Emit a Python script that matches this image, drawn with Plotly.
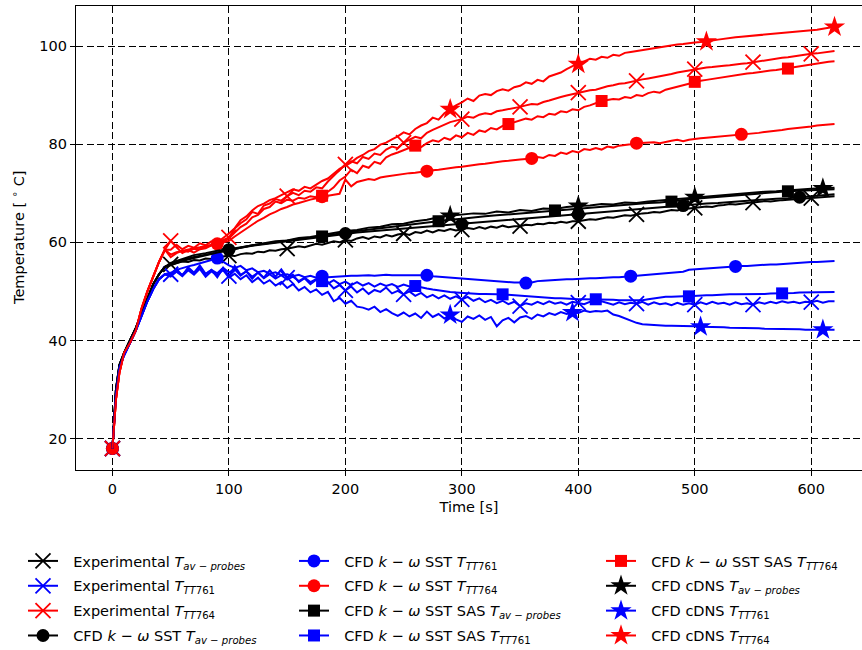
import plotly.graph_objects as go

# ---------------------------------------------------------------------------
# Time axes [s]
# start-up phase sampled irregularly, then a regular clock
T_START = [0, 3, 6, 10, 15, 20, 25, 30, 35, 40, 45]
TIME_FINE = T_START + list(range(50, 621, 5))     # 5 s clock
TIME_COARSE = T_START + list(range(50, 621, 10))  # 10 s clock

# shared start-up transient (0-45 s)
RISE_AV = [18, 30, 35, 37.5, 40, 42.5, 45.5, 48.5, 51.5, 53.5, 55]
RISE_761 = [18, 29, 34.5, 37, 39.5, 42, 45, 48, 50.5, 52.5, 53.5]
RISE_764 = [18, 28, 33.5, 37.5, 39.5, 42, 46.5, 50, 53, 56, 58.5]

# ---------------------------------------------------------------------------
# Experimental temperatures [degC] on TIME_FINE
EXP_AV = RISE_AV + [
    55.5, 55.8, 56.1, 56.0, 56.4, 56.3, 56.7, 56.6, 56.9, 57.1,
    57.3, 57.2, 57.6, 57.8, 57.7, 58.1, 58.0, 58.4, 58.3, 58.6,
    58.7, 58.9, 59.2, 59.0, 59.4, 59.7, 59.5, 59.9, 60.2, 60.0,
    60.5, 60.3, 60.8, 61.1, 60.7, 61.2, 61.0, 61.5, 61.2, 61.6,
    61.8, 61.5, 62.1, 61.9, 62.4, 62.0, 62.5, 62.3, 62.7, 62.4,
    62.6, 62.9, 62.7, 63.1, 62.8, 63.2, 63.0, 63.4, 63.1, 63.3,
    63.3, 63.6, 63.5, 63.8, 63.7, 64.0, 63.9, 64.2, 64.0, 64.3,
    64.3, 64.5, 64.7, 64.6, 64.9, 65.1, 65.0, 65.3, 65.5, 65.4,
    65.7, 65.9, 66.0, 66.2, 66.1, 66.4, 66.6, 66.5, 66.8, 66.9,
    67.0, 67.2, 67.3, 67.2, 67.5, 67.6, 67.8, 67.7, 67.9, 68.0,
    68.1, 68.2, 68.4, 68.3, 68.5, 68.6, 68.7, 68.8, 68.9, 68.9,
    69.0, 69.1, 69.2, 69.3, 69.4]

EXP_761 = RISE_761 + [
    53.5, 54.6, 53.2, 54.9, 53.8, 55.3, 53.6, 54.4, 52.9, 54.8,
    53.1, 55.2, 53.4, 54.1, 52.6, 53.9, 52.8, 54.3, 53.0, 54.5,
    52.8, 53.4, 51.9, 52.7, 51.5, 52.4, 51.2, 51.9, 50.6, 51.3,
    50.2, 51.0, 49.8, 50.6, 49.5, 50.3, 49.9, 50.8, 49.6, 50.1,
    49.4, 50.0, 49.1, 49.7, 48.8, 49.3, 48.6, 49.2, 48.5, 49.0,
    48.4, 48.9, 48.1, 48.6, 47.8, 48.3, 47.6, 48.1, 47.4, 47.9,
    47.0, 47.6, 47.3, 47.9, 47.4, 48.0, 47.5, 47.8, 47.3, 47.9,
    47.7, 47.4, 47.9, 47.5, 48.0, 47.6, 47.3, 47.8, 47.4, 47.7,
    47.5, 47.9, 47.3, 47.8, 47.4, 47.6, 47.2, 47.7, 47.3, 47.6,
    47.3, 47.8, 47.4, 47.9, 47.5, 47.7, 47.3, 47.8, 47.4, 47.6,
    47.3, 47.8, 47.5, 47.9, 47.6, 48.0, 47.7, 47.9, 47.6, 47.9,
    47.8, 48.1, 47.7, 48.0, 48.0]

EXP_764 = RISE_764 + [
    60.3, 59.0, 57.8, 58.4, 57.9, 58.6, 58.8, 59.4, 59.9, 60.5,
    61.0, 62.8, 63.9, 64.7, 66.2, 65.8, 67.5, 67.9, 68.8, 68.5,
    69.4, 70.1, 69.6, 70.5, 70.3, 71.2, 71.0, 72.4, 73.5, 74.6,
    75.9, 76.5, 76.1, 77.4, 77.0, 78.1, 77.8, 78.9, 79.5, 79.2,
    80.3, 80.9, 81.5, 81.2, 82.3, 82.9, 83.4, 83.9, 84.5, 84.8,
    85.1, 85.6, 85.4, 86.0, 86.3, 86.1, 86.7, 86.9, 87.1, 87.4,
    87.6, 87.9, 88.2, 88.1, 88.6, 88.9, 89.3, 89.6, 89.9, 90.2,
    90.5, 90.7, 91.0, 91.1, 91.5, 91.8, 92.0, 92.3, 92.4, 92.7,
    92.9, 93.2, 93.4, 93.6, 93.8, 94.1, 94.3, 94.6, 94.8, 95.0,
    95.3, 95.4, 95.6, 95.7, 95.9, 96.0, 96.1, 96.3, 96.4, 96.5,
    96.7, 96.9, 97.0, 97.2, 97.4, 97.6, 97.7, 97.9, 98.1, 98.2,
    98.4, 98.5, 98.7, 98.9, 99.0]

# ---------------------------------------------------------------------------
# CFD k-omega SST
SST_AV = RISE_AV + [  # on TIME_COARSE
    55.5, 56.4, 57.0, 57.5, 58.0, 58.5, 58.9, 59.3, 59.6, 59.9,
    60.2, 60.5, 60.8, 61.1, 61.5, 61.8, 62.0, 62.2, 62.4, 62.6,
    62.8, 62.9, 63.1, 63.3, 63.5, 63.7, 63.9, 64.1, 64.3, 64.5,
    64.7, 64.9, 65.1, 65.3, 65.5, 65.7, 65.9, 66.1, 66.3, 66.5,
    66.7, 66.9, 67.1, 67.3, 67.5, 67.7, 67.9, 68.0, 68.2, 68.4,
    68.5, 68.7, 68.9, 69.0, 69.2, 69.3, 69.6, 69.8]

SST_761 = RISE_761 + [  # on TIME_FINE
    53.8, 54.4, 54.8, 55.1, 55.4, 55.7, 56.0, 56.4, 56.8, 56.0,
    55.3, 54.8, 55.2, 54.3, 54.7, 53.9, 54.2, 53.6, 53.9, 53.3,
    53.5, 53.1, 53.4, 52.9, 53.2, 52.8, 53.1, 52.9, 53.0, 53.1,
    53.1, 53.2, 53.2, 53.3, 53.3, 53.2, 53.3, 53.4, 53.3, 53.3,
    53.3, 53.3, 53.3, 53.3, 53.3, 53.1, 53.0, 52.9, 52.8, 52.7,
    52.7, 52.6, 52.5, 52.4, 52.3, 52.2, 52.1, 52.0, 51.9, 51.8,
    51.8, 51.7, 51.8, 52.1, 52.2, 52.3, 52.4, 52.4, 52.5, 52.5,
    52.6, 52.6, 52.7, 52.7, 52.8, 52.8, 52.9, 52.9, 53.0, 53.1,
    53.2, 53.3, 53.5, 53.6, 53.7, 53.8, 53.8, 53.9, 54.0, 54.4,
    54.5, 54.5, 54.6, 54.7, 54.8, 54.9, 55.0, 55.1, 55.2, 55.2,
    55.3, 55.4, 55.4, 55.5, 55.5, 55.6, 55.7, 55.8, 55.8, 55.9,
    56.0, 56.0, 56.1, 56.1, 56.2]

SST_764 = RISE_764 + [  # on TIME_FINE
    57.5, 58.0, 58.3, 58.6, 58.8, 59.0, 59.2, 59.4, 59.7, 60.0,
    60.3, 61.2, 62.0, 62.9, 63.6, 64.4, 65.0, 65.7, 66.2, 66.8,
    67.2, 67.7, 68.0, 68.4, 68.7, 69.0, 69.3, 69.5, 69.7, 69.9,
    72.8, 71.4, 72.3, 72.6, 72.9, 72.7, 73.2, 73.4, 73.6, 73.8,
    73.9, 74.1, 74.2, 74.4, 74.5, 74.7, 74.8, 75.0, 75.1, 75.3,
    75.4, 75.6, 75.7, 75.9, 76.0, 76.2, 76.3, 76.5, 76.6, 76.8,
    76.9, 77.0, 77.1, 77.4, 77.2, 77.8, 77.6, 78.3, 78.0, 78.6,
    78.3, 79.0, 78.8, 79.2, 78.9, 79.5, 79.3, 79.7, 79.8, 80.0,
    80.2, 80.3, 80.3, 80.4, 80.2, 80.5, 80.7, 80.9, 80.6, 80.9,
    81.1, 81.2, 81.3, 81.4, 81.5, 81.6, 81.7, 81.8, 82.0, 82.1,
    82.2, 82.3, 82.5, 82.6, 82.8, 82.9, 83.1, 83.2, 83.4, 83.5,
    83.6, 83.8, 83.9, 84.0, 84.1]

# ---------------------------------------------------------------------------
# CFD k-omega SST SAS
SAS_AV = RISE_AV + [  # on TIME_COARSE
    55.3, 56.2, 56.8, 57.4, 57.9, 58.4, 58.9, 59.4, 59.7, 60.0,
    60.3, 60.6, 60.9, 61.2, 61.6, 62.0, 62.3, 62.6, 62.9, 63.2,
    63.5, 63.8, 64.1, 64.3, 64.6, 64.8, 65.1, 65.3, 65.5, 65.7,
    65.9, 66.1, 66.3, 66.5, 66.7, 66.9, 67.0, 67.2, 67.4, 67.6,
    67.8, 68.0, 68.1, 68.3, 68.6, 68.9, 69.1, 69.3, 69.5, 69.7,
    69.9, 70.0, 70.2, 70.4, 70.5, 70.6, 70.7, 70.8]

SAS_761 = RISE_761 + [  # on TIME_FINE
    53.0, 54.1, 53.4, 54.6, 53.8, 54.9, 53.5, 54.4, 53.7, 54.8,
    53.9, 54.5, 53.2, 54.1, 53.0, 53.8, 52.7, 53.5, 52.6, 53.3,
    52.4, 53.0, 52.1, 52.8, 51.9, 52.5, 52.1, 51.6, 52.3, 51.5,
    52.0, 51.3, 51.9, 51.2, 51.7, 51.0, 51.6, 51.1, 51.5, 50.9,
    51.4, 51.0, 51.1, 50.8, 50.6, 50.4, 50.2, 50.1, 49.9, 49.8,
    49.7, 49.6, 49.6, 49.5, 49.5, 49.4, 49.4, 49.4, 49.3, 49.2,
    49.1, 49.0, 48.9, 48.8, 48.7, 48.7, 48.6, 48.6, 48.5, 48.5,
    48.4, 48.4, 48.4, 48.4, 48.3, 48.3, 48.3, 48.2, 48.2, 48.2,
    48.2, 48.2, 48.4, 48.6, 48.8, 48.9, 48.9, 49.0, 49.0, 49.0,
    49.1, 49.1, 49.2, 49.2, 49.3, 49.3, 49.4, 49.4, 49.4, 49.5,
    49.5, 49.5, 49.5, 49.6, 49.6, 49.6, 49.7, 49.7, 49.8, 49.8,
    49.8, 49.8, 49.9, 49.9, 49.9]

SAS_764 = RISE_764 + [  # on TIME_FINE
    57.0, 57.8, 58.3, 58.1, 58.7, 58.6, 59.1, 59.4, 59.6, 60.1,
    60.8, 62.0, 63.1, 63.8, 65.1, 65.6, 66.8, 67.2, 68.3, 68.0,
    68.7, 68.5, 69.1, 68.9, 69.4, 69.2, 69.5, 70.3, 71.2, 72.6,
    73.4, 74.8, 74.1, 75.6, 75.2, 76.4, 76.0, 77.3, 77.9, 78.3,
    78.8, 79.3, 79.7, 79.4, 80.2, 80.8, 80.5, 81.3, 80.9, 81.8,
    81.4, 82.3, 81.9, 82.8, 82.5, 83.3, 83.0, 83.7, 84.1, 84.4,
    84.9, 85.2, 85.0, 85.7, 85.5, 86.2, 86.0, 86.7, 86.5, 87.1,
    86.9, 87.6, 87.9, 88.3, 88.8, 89.0, 89.2, 89.1, 89.6, 89.4,
    90.0, 89.8, 90.4, 90.7, 90.5, 91.1, 91.4, 91.7, 92.0, 92.4,
    92.7, 92.9, 93.1, 93.3, 93.5, 93.7, 93.9, 94.1, 94.2, 94.4,
    94.5, 94.7, 94.8, 95.0, 95.1, 95.3, 95.4, 95.6, 95.8, 96.0,
    96.2, 96.4, 96.6, 96.8, 96.9]

# ---------------------------------------------------------------------------
# CFD cDNS
CDNS_AV = RISE_AV + [  # on TIME_COARSE
    55.8, 56.6, 57.4, 57.8, 58.3, 58.6, 59.0, 59.5, 59.8, 60.2,
    60.4, 60.9, 61.1, 61.5, 61.9, 62.3, 62.5, 63.0, 63.2, 63.7,
    63.8, 64.3, 64.6, 65.1, 65.4, 65.6, 65.9, 65.8, 66.3, 66.1,
    66.6, 66.4, 66.9, 66.8, 67.2, 67.4, 67.5, 67.8, 67.7, 68.1,
    68.0, 68.3, 68.5, 68.7, 69.0, 69.2, 69.4, 69.6, 69.8, 70.0,
    70.1, 70.3, 70.4, 70.6, 70.7, 70.9, 71.0, 71.1]

CDNS_761 = RISE_761 + [  # on TIME_FINE
    53.2, 54.0, 53.1, 54.3, 53.4, 54.6, 53.0, 54.1, 53.3, 54.4,
    52.8, 53.6, 52.5, 53.3, 51.9, 52.8, 51.6, 52.3, 51.2, 51.9,
    50.7, 51.5, 50.2, 50.9, 49.8, 50.4, 49.3, 49.9, 48.0, 48.7,
    47.5, 48.1, 46.9, 46.7, 46.3, 46.9, 45.8, 46.4, 45.6, 45.0,
    45.7, 44.9, 45.5, 44.6, 45.9, 44.8, 45.4, 44.5, 45.2, 44.3,
    43.8, 44.9, 44.4, 45.1, 44.2, 44.8, 42.9, 44.1, 44.6, 43.7,
    44.7, 45.0, 44.4, 45.3, 44.9, 45.6, 45.2, 45.8, 45.4, 45.7,
    45.6, 46.1, 45.8, 46.0, 45.9, 46.1, 45.3, 45.0, 44.5, 44.0,
    43.6, 43.3, 43.2, 43.1, 43.1, 43.0, 43.0, 43.0, 42.9, 42.9,
    42.9, 42.8, 42.8, 42.8, 42.7, 42.7, 42.6, 42.6, 42.5, 42.5,
    42.5, 42.5, 42.4, 42.4, 42.4, 42.3, 42.3, 42.3, 42.3, 42.2,
    42.2, 42.2, 42.2, 42.2, 42.2]

CDNS_764 = RISE_764 + [  # on TIME_FINE
    58.5, 59.5, 58.6, 59.3, 58.9, 59.8, 59.4, 60.2, 60.0, 60.9,
    61.8, 62.9, 64.5, 65.3, 66.5, 67.4, 67.9, 68.6, 69.0, 69.6,
    70.2, 70.8, 70.5, 71.3, 71.0, 71.8, 72.5, 73.0, 74.1, 75.0,
    75.6, 76.3, 77.2, 77.8, 78.6, 79.0, 79.9, 80.3, 81.0, 81.6,
    82.4, 82.0, 83.1, 83.8, 84.3, 85.4, 85.0, 86.3, 87.1, 87.9,
    88.5, 89.3, 88.8, 89.9, 90.2, 90.0, 90.8, 91.2, 90.9, 91.6,
    91.9, 92.6, 92.3, 93.1, 92.8, 93.8, 94.2, 94.6, 95.3, 95.9,
    96.3, 96.8, 97.4, 97.2, 97.8, 97.6, 98.2, 98.0, 98.6, 98.8,
    99.0, 99.2, 99.4, 99.6, 99.8, 99.9, 100.1, 100.3, 100.4, 100.6,
    100.7, 100.8, 100.9, 101.1, 101.3, 101.5, 101.6, 101.8, 101.9, 102.0,
    102.2, 102.3, 102.4, 102.5, 102.6, 102.7, 102.8, 102.9, 103.0, 103.1,
    103.1, 103.3, 103.5, 103.7, 103.9]

# marker times [s] (a marker is placed on the series at these samples)
MARK_EXP = [0, 50, 100, 150, 200, 250, 300, 350, 400, 450, 500, 550, 600]
MARK_SST_AV = [0, 100, 200, 300, 400, 490, 590]
MARK_SST_761 = [0, 90, 180, 270, 355, 445, 535]
MARK_SST_764 = [0, 90, 180, 270, 360, 450, 540]
MARK_SAS_AV = [180, 280, 380, 480, 580]
MARK_SAS_761 = [180, 260, 335, 415, 495, 575]
MARK_SAS_764 = [180, 260, 340, 420, 500, 580]
MARK_CDNS_AV = [290, 400, 500, 610]
MARK_CDNS_761 = [290, 395, 505, 610]
MARK_CDNS_764 = [290, 400, 510, 620]

X_TICKS = [0, 100, 200, 300, 400, 500, 600]
Y_TICKS = [20, 40, 60, 80, 100]

# ---------------------------------------------------------------------------
FONT = "DejaVu Sans"
BLACK, BLUE, RED = "#000000", "#0000ff", "#ff0000"

GAP = "\u2002\u2009"  # space between legend symbol and its label
AV = "<i>T</i><sub><i>av \u2212 probes</i></sub>"
P761 = "<i>T</i><sub><i>TT</i>761</sub>"
P764 = "<i>T</i><sub><i>TT</i>764</sub>"
KW = "<i>k</i> \u2212 <i>\u03c9</i> SST"

# (name, time, values, marker times, colour, symbol, size, legend)
SERIES = [
    ("Experimental " + AV, TIME_FINE, EXP_AV, MARK_EXP, BLACK, "x-thin", 15, "legend"),
    ("Experimental " + P761, TIME_FINE, EXP_761, MARK_EXP, BLUE, "x-thin", 15, "legend"),
    ("Experimental " + P764, TIME_FINE, EXP_764, MARK_EXP, RED, "x-thin", 15, "legend"),
    ("CFD " + KW + " " + AV, TIME_COARSE, SST_AV, MARK_SST_AV, BLACK, "circle", 13, "legend"),
    ("CFD " + KW + " " + P761, TIME_FINE, SST_761, MARK_SST_761, BLUE, "circle", 13, "legend2"),
    ("CFD " + KW + " " + P764, TIME_FINE, SST_764, MARK_SST_764, RED, "circle", 13, "legend2"),
    ("CFD " + KW + " SAS " + AV, TIME_COARSE, SAS_AV, MARK_SAS_AV, BLACK, "square", 12, "legend2"),
    ("CFD " + KW + " SAS " + P761, TIME_FINE, SAS_761, MARK_SAS_761, BLUE, "square", 12, "legend2"),
    ("CFD " + KW + " SAS " + P764, TIME_FINE, SAS_764, MARK_SAS_764, RED, "square", 12, "legend3"),
    ("CFD cDNS " + AV, TIME_COARSE, CDNS_AV, MARK_CDNS_AV, BLACK, "star", 16, "legend3"),
    ("CFD cDNS " + P761, TIME_FINE, CDNS_761, MARK_CDNS_761, BLUE, "star", 16, "legend3"),
    ("CFD cDNS " + P764, TIME_FINE, CDNS_764, MARK_CDNS_764, RED, "star", 16, "legend3"),
]


def marker_style(colour, symbol, size):
    if symbol == "x-thin":
        return dict(symbol=symbol, size=size, color=colour,
                    line=dict(color=colour, width=1.8))
    return dict(symbol=symbol, size=size, color=colour,
                line=dict(color=colour, width=0))


fig = go.Figure()
for i, (name, t, v, marks, colour, symbol, size, leg) in enumerate(SERIES):
    idx = [t.index(m) for m in marks]
    fig.add_trace(go.Scatter(
        x=t, y=v, mode="lines", line=dict(color=colour, width=2),
        showlegend=False, hoverinfo="skip"))
    fig.add_trace(go.Scatter(
        x=[t[k] for k in idx], y=[v[k] for k in idx], mode="markers",
        marker=marker_style(colour, symbol, size),
        showlegend=False, hoverinfo="skip"))
    # legend entry: line with the marker on it
    fig.add_trace(go.Scatter(
        x=[None], y=[None], mode="lines+markers", name=GAP + name,
        legend=leg, legendgroup="g%d" % i,
        line=dict(color=colour, width=2),
        marker=marker_style(colour, symbol, size)))

axis_common = dict(
    showline=True, linecolor="black", linewidth=1.2,
    ticks="outside", ticklen=5, tickwidth=1.2, tickcolor="black",
    showgrid=True, gridcolor="black", gridwidth=1.1, griddash="7px,3.5px",
    zeroline=False, tickfont=dict(family=FONT, size=14.5, color="black"),
)

fig.update_layout(
    width=862, height=650,
    margin=dict(l=76, r=0, t=6, b=180, autoexpand=False),
    paper_bgcolor="white", plot_bgcolor="white",
    font=dict(family=FONT, size=14.5, color="black"),
    xaxis=dict(axis_common, range=[-31.3, 643.6], tickvals=X_TICKS,
               mirror=True, automargin=False,
               title=dict(text="Time [s]", standoff=6,
                          font=dict(family=FONT, size=14.5))),
    yaxis=dict(axis_common, range=[13.62, 108.15], tickvals=Y_TICKS,
               automargin=False),
)

# y-axis title
fig.add_annotation(
    text="Temperature [ <sup>\u2218</sup> C]", textangle=-90,
    xref="paper", yref="paper", x=0, y=0.5, xshift=-58,
    xanchor="center", yanchor="middle", showarrow=False,
    font=dict(family=FONT, size=14.5, color="black"))

legend_common = dict(
    orientation="v", xref="container", yref="container",
    xanchor="left", yanchor="top", bgcolor="rgba(0,0,0,0)", borderwidth=0,
    font=dict(family=FONT, size=14.5, color="black"),
    itemsizing="trace", tracegroupgap=3,
)
fig.update_layout(
    legend=dict(legend_common, x=23 / 862, y=1 - 545 / 650),
    legend2=dict(legend_common, x=294 / 862, y=1 - 545 / 650),
    legend3=dict(legend_common, x=601 / 862, y=1 - 545 / 650),
)

fig.write_html("out.html")
